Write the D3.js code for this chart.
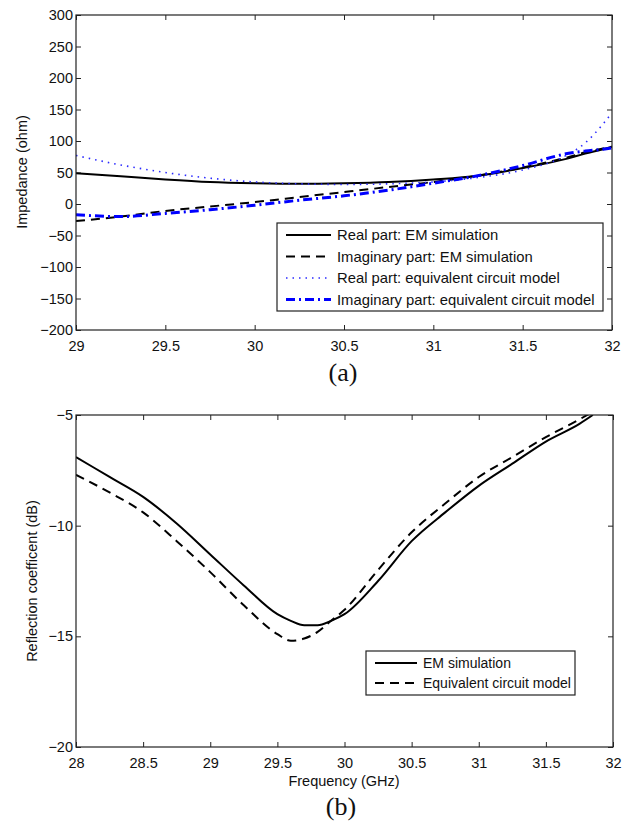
<!DOCTYPE html>
<html><head><meta charset="utf-8">
<script src="https://cdn.jsdelivr.net/npm/d3@7"></script>
<style>body{margin:0;background:#fff}svg{display:block}</style>
</head><body>
<svg id="c" width="628" height="829" font-family="Liberation Sans, Arial, sans-serif"></svg>
<script>
// ---- Data: (a) impedance ----
const freqA = [29, 29.25, 29.5, 29.75, 30, 30.25, 30.5, 30.75, 31, 31.25, 31.5, 31.75, 31.85, 31.95, 32];
const realEM = [49, 44, 39, 35, 33, 32, 33, 35, 39, 45, 57, 72, 80, 87, 91];
const imagEM = [-27, -20, -11, -4, 3, 11, 19, 27, 35, 45, 58, 74, 82, 88, 91];
const realCM = [77, 62, 50, 41, 35, 32, 31, 32, 35, 42, 54, 78, 97, 127, 145];
const imagCM = [-17, -20, -15, -9, -2, 6, 13, 22, 33, 45, 61, 80, 84, 87, 89];
const xTicksA = [29, 29.5, 30, 30.5, 31, 31.5, 32];
const yTicksA = [-200, -150, -100, -50, 0, 50, 100, 150, 200, 250, 300];
const legendA = ["Real part: EM simulation", "Imaginary part: EM simulation", "Real part: equivalent circuit model", "Imaginary part: equivalent circuit model"];

// ---- Data: (b) reflection coefficient ----
const freqB = [28, 28.25, 28.5, 28.75, 29, 29.25, 29.5, 29.6, 29.7, 29.8, 29.9, 30, 30.25, 30.5, 30.75, 31, 31.25, 31.5, 31.75, 31.85];
const s11EM = [-6.9, -7.8, -8.7, -9.9, -11.3, -12.7, -14.0, -14.3, -14.5, -14.5, -14.3, -14.0, -12.5, -10.7, -9.4, -8.2, -7.2, -6.2, -5.4, -5.0];
const s11CM = [-7.7, -8.5, -9.4, -10.7, -12.1, -13.6, -14.9, -15.2, -15.1, -14.8, -14.3, -13.8, -12.0, -10.3, -9.0, -7.8, -6.9, -6.0, -5.2, -4.85];
const xTicksB = [28, 28.5, 29, 29.5, 30, 30.5, 31, 31.5, 32];
const yTicksB = [-20, -15, -10, -5];
const legendB = ["EM simulation", "Equivalent circuit model"];

const svg = d3.select("#c");
const fmt = v => String(v).replace("-", "\u2212");
const SANS = "Liberation Sans, Arial, sans-serif";
const SERIF = "Liberation Serif, Times New Roman, serif";

const styles = {
  solid: {stroke: "#000", width: 2, dash: null},
  dashed: {stroke: "#000", width: 2, dash: "9,6"},
  dotted: {stroke: "#2a2aff", width: 1.6, dash: "1.5,5"},
  dashdot: {stroke: "#0000ff", width: 3, dash: "9,4,2,4"}
};

function panel(cfg) {
  const {L, R, T, B, xDom, yDom, xTicks, yTicks, series, id} = cfg;
  const x = d3.scaleLinear().domain(xDom).range([L, R]);
  const y = d3.scaleLinear().domain(yDom).range([B, T]);
  const g = svg.append("g");
  g.append("clipPath").attr("id", id).append("rect").attr("x", L).attr("y", T).attr("width", R - L).attr("height", B - T);
  const tl = 5;
  g.append("g").attr("transform", `translate(0,${B})`)
    .call(d3.axisBottom(x).tickValues(xTicks).tickSizeInner(-tl).tickSizeOuter(0).tickPadding(11).tickFormat(fmt))
    .call(a => a.select(".domain").remove());
  g.append("g").attr("transform", `translate(0,${T})`)
    .call(d3.axisTop(x).tickValues(xTicks).tickSizeInner(-tl).tickSizeOuter(0).tickFormat(""))
    .call(a => a.select(".domain").remove());
  g.append("g").attr("transform", `translate(${L},0)`)
    .call(d3.axisLeft(y).tickValues(yTicks).tickSizeInner(-tl).tickSizeOuter(0).tickPadding(3).tickFormat(fmt))
    .call(a => a.select(".domain").remove());
  g.append("g").attr("transform", `translate(${R},0)`)
    .call(d3.axisRight(y).tickValues(yTicks).tickSizeInner(-tl).tickSizeOuter(0).tickFormat(""))
    .call(a => a.select(".domain").remove());
  g.selectAll("g").attr("font-family", SANS).attr("font-size", 14.5);
  g.selectAll(".tick text").attr("fill", "#111");
  g.selectAll(".tick line").attr("stroke", "#222");
  const lines = g.append("g").attr("clip-path", `url(#${id})`);
  series.forEach(s => {
    const st = styles[s.style];
    const line = d3.line().x((d, i) => x(s.xs[i])).y(d => y(d)).curve(d3.curveMonotoneX);
    lines.append("path").attr("d", line(s.ys)).attr("fill", "none")
      .attr("stroke", st.stroke).attr("stroke-width", st.width)
      .attr("stroke-dasharray", st.dash);
  });
  g.append("rect").attr("x", L).attr("y", T).attr("width", R - L).attr("height", B - T)
    .attr("fill", "none").attr("stroke", "#222").attr("stroke-width", 1.2);
  return {x, y, g};
}

function legend(g, box, items) {
  g.append("rect").attr("x", box.x).attr("y", box.y).attr("width", box.w).attr("height", box.h)
    .attr("fill", "#fff").attr("stroke", "#222").attr("stroke-width", 1.2);
  items.forEach((it, i) => {
    const cy = box.y + box.first + i * box.step;
    const st = styles[it.style];
    g.append("line").attr("x1", box.x + 9).attr("x2", box.x + 9 + box.len).attr("y1", cy).attr("y2", cy)
      .attr("stroke", st.stroke).attr("stroke-width", st.width).attr("stroke-dasharray", st.dash);
    g.append("text").attr("x", box.x + box.len + 15).attr("y", cy + box.fs * 0.35)
      .attr("font-family", SANS).attr("font-size", box.fs).attr("fill", "#111").text(it.label);
  });
}

// Panel (a)
const pa = panel({id: "clipA", L: 76, R: 612, T: 15, B: 330, xDom: [29, 32], yDom: [-200, 300],
  xTicks: xTicksA, yTicks: yTicksA,
  series: [
    {xs: freqA, ys: realEM, style: "solid"},
    {xs: freqA, ys: imagEM, style: "dashed"},
    {xs: freqA, ys: realCM, style: "dotted"},
    {xs: freqA, ys: imagCM, style: "dashdot"}
  ]});
legend(pa.g, {x: 277, y: 223, w: 326, h: 88, first: 12, step: 21.5, len: 45, fs: 14.8},
  legendA.map((l, i) => ({label: l, style: ["solid", "dashed", "dotted", "dashdot"][i]})));
svg.append("text").attr("transform", "translate(27,172) rotate(-90)").attr("text-anchor", "middle")
  .attr("font-family", SANS).attr("font-size", 14.5).attr("fill", "#111").text("Impedance (ohm)");
svg.append("text").attr("x", 343).attr("y", 381).attr("text-anchor", "middle")
  .attr("font-family", SERIF).attr("font-size", 26).attr("fill", "#111").text("(a)");

// Panel (b)
const pb = panel({id: "clipB", L: 76, R: 613, T: 415, B: 747, xDom: [28, 32], yDom: [-20, -5],
  xTicks: xTicksB, yTicks: yTicksB,
  series: [
    {xs: freqB, ys: s11EM, style: "solid"},
    {xs: freqB, ys: s11CM, style: "dashed"}
  ]});
legend(pb.g, {x: 366, y: 651, w: 209, h: 44, first: 12, step: 20, len: 42, fs: 14},
  legendB.map((l, i) => ({label: l, style: ["solid", "dashed"][i]})));
svg.append("text").attr("transform", "translate(37,581) rotate(-90)").attr("text-anchor", "middle")
  .attr("font-family", SANS).attr("font-size", 14.5).attr("fill", "#111").text("Reflection coefficent (dB)");
svg.append("text").attr("x", 344).attr("y", 786).attr("text-anchor", "middle")
  .attr("font-family", SANS).attr("font-size", 14.5).attr("fill", "#111").text("Frequency (GHz)");
svg.append("text").attr("x", 341).attr("y", 815).attr("text-anchor", "middle")
  .attr("font-family", SERIF).attr("font-size", 26).attr("fill", "#111").text("(b)");
</script>
</body></html>
